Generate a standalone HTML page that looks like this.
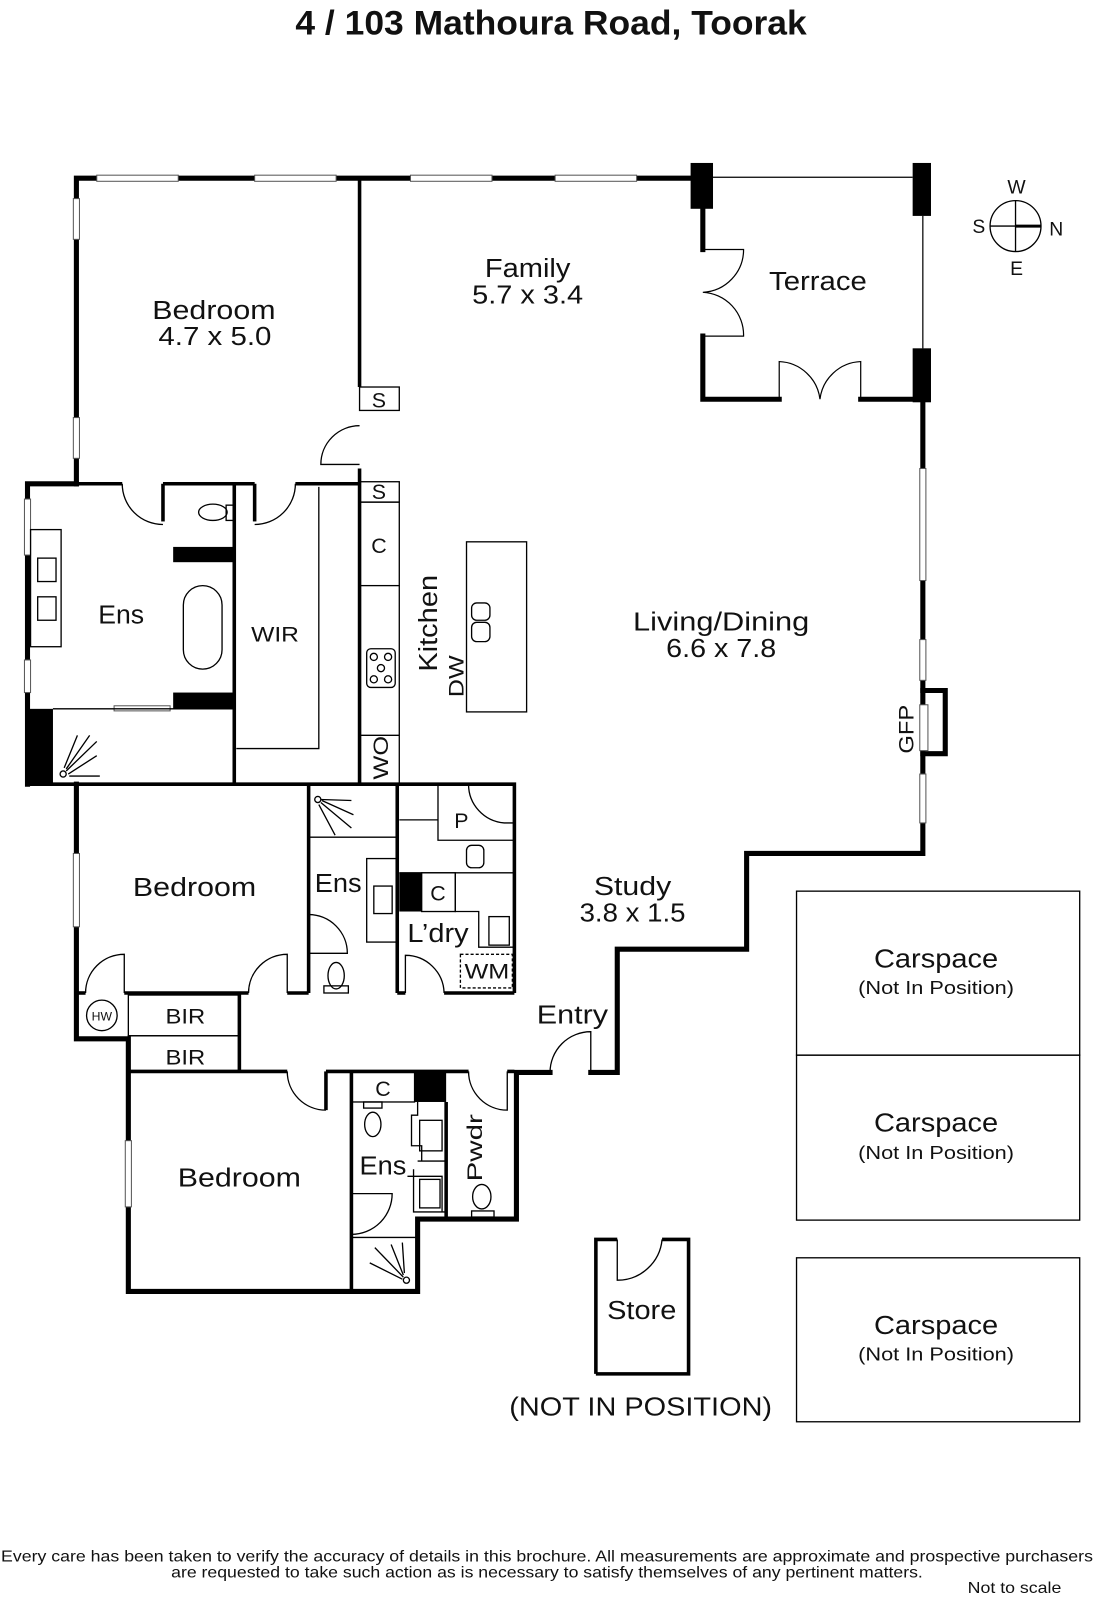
<!DOCTYPE html>
<html><head><meta charset="utf-8"><style>
html,body{margin:0;padding:0;background:#fff}
svg{display:block}
text{font-family:"Liberation Sans",sans-serif;fill:#111}
</style></head><body>
<svg width="1096" height="1600" viewBox="0 0 1076 1571" preserveAspectRatio="none" xmlns="http://www.w3.org/2000/svg">
<text x="541" y="34" text-anchor="middle" font-size="34" font-weight="bold" textLength="502" lengthAdjust="spacingAndGlyphs">4 / 103 Mathoura Road, Toorak</text>

<g fill="none" stroke="#000" stroke-width="5" stroke-linecap="square">
<polyline points="75,475 75,175 690,175"/>
<polyline points="690,205 690,245"/><polyline points="690,330 690,392 765,392"/><polyline points="845,392 906,392 906,838 733,838 733,932 606,932 606,1053 580,1053"/>
<polyline points="540,1053 507,1053 507,1197 410,1197 410,1268 126,1268 126,1020 75,1020 75,770"/>
<polyline points="27,770 27,475 75,475"/>
<polyline points="906,678 928,678 928,740 906,740"/>
</g>
<g fill="#000">
<rect x="678" y="160" width="22" height="45"/><rect x="896" y="160" width="18" height="52"/><rect x="896" y="342" width="18" height="53"/>
<rect x="170" y="537" width="60" height="15"/><rect x="170" y="680" width="60" height="16"/><rect x="27" y="696" width="25" height="74"/>
<rect x="392" y="857" width="22" height="38"/><rect x="407" y="1052" width="31" height="30"/>
</g>
<g fill="#fff" stroke="#555" stroke-width="1">
<rect x="95" y="172" width="80" height="6"/><rect x="250" y="172" width="80" height="6"/><rect x="403" y="172" width="80" height="6"/><rect x="545" y="172" width="80" height="6"/>
<rect x="72" y="195" width="6" height="40"/><rect x="72" y="410" width="6" height="40"/>
<rect x="24" y="490" width="6" height="55"/><rect x="24" y="648" width="6" height="32"/>
<rect x="903" y="460" width="6" height="110"/><rect x="903" y="628" width="6" height="40"/><rect x="903" y="760" width="6" height="48"/>
<rect x="72" y="838" width="6" height="72"/><rect x="123" y="1120" width="6" height="65"/>
<rect x="112" y="693" width="55" height="5"/><rect x="903" y="692" width="8" height="45"/>
</g>
<g fill="none" stroke="#000" stroke-width="1.2">
<line x1="700" y1="174" x2="896" y2="174"/><line x1="906" y1="212" x2="906" y2="342"/>
<path d="M690,245 H730 A42,42 0 0 1 690,287 A42,42 0 0 1 730,330 H690"/>
<path d="M765,392 V355 A42,42 0 0 1 805,392 A42,42 0 0 1 845,355 V392"/>
</g>
<g fill="none" stroke="#000" stroke-width="3.5">
<polyline points="353,175 353,380"/><polyline points="353,460 353,770"/>
<polyline points="27,475 120,475"/><polyline points="160,475 160,512"/><polyline points="160,475 250,475"/><polyline points="250,475 250,512"/><polyline points="290,475 353,475"/>
<line x1="230" y1="475" x2="230" y2="770"/>
<polyline points="27,770 505,770 505,975"/>
<line x1="303" y1="770" x2="303" y2="975"/><line x1="390" y1="770" x2="390" y2="975"/>
<polyline points="75,975 84,975"/><polyline points="122,975 244,975"/><polyline points="282,975 303,975"/><polyline points="390,975 398,975"/><line x1="436" y1="975" x2="505" y2="975"/>
<line x1="235" y1="975" x2="235" y2="1052"/>
<polyline points="126,1052 282,1052"/><polyline points="320,1052 320,1090"/><polyline points="320,1052 460,1052"/><line x1="498" y1="1052" x2="505" y2="1052"/>
<line x1="345" y1="1052" x2="345" y2="1268"/><line x1="438" y1="1082" x2="438" y2="1197"/>
<polyline points="585,1349 585,1217 606,1217"/><polyline points="650,1217 676,1217 676,1349 585,1349"/>
</g>
<g fill="none" stroke="#000" stroke-width="1.3">
<rect x="353" y="380" width="39" height="23"/><rect x="353" y="473" width="39" height="20"/><rect x="353" y="493" width="39" height="82"/>
<line x1="392" y1="575" x2="392" y2="770"/><line x1="353" y1="722" x2="392" y2="722"/>
<path d="M353,418 A38,38 0 0 0 315,456 H353"/>
<path d="M120,475 A40,40 0 0 0 160,515"/><path d="M290,475 A40,40 0 0 1 250,515"/>
<rect x="360" y="637" width="28" height="38" rx="4"/><circle cx="367" cy="645" r="3.5"/><circle cx="381" cy="645" r="3.5"/><circle cx="374" cy="656" r="3.5"/><circle cx="367" cy="667" r="3.5"/><circle cx="381" cy="667" r="3.5"/>
<polyline points="313,478 313,735 232,735"/>
<rect x="30" y="520" width="30" height="115"/><rect x="37" y="548" width="18" height="23"/><rect x="37" y="586" width="18" height="23"/>
<rect x="180" y="575" width="38" height="82" rx="19"/><ellipse cx="209" cy="503" rx="14" ry="8"/><rect x="222" y="496" width="8" height="15"/>
<line x1="52" y1="696" x2="230" y2="696"/>
<rect x="458" y="532" width="59" height="167"/><rect x="463" y="592" width="18" height="17" rx="5"/><rect x="463" y="611" width="18" height="19" rx="5"/>
<circle cx="62" cy="760" r="3"/><path d="M65,757 L95,728 M65,755 L88,722 M63,754 L76,722 M67,760 L95,742 M68,762 L98,762"/>
<line x1="303" y1="822" x2="390" y2="822"/><circle cx="312" cy="785" r="3"/><path d="M315,788 L345,813 M316,786 L347,800 M315,785 L345,786 M313,790 L329,820"/>
<rect x="360" y="843" width="30" height="82"/><rect x="367" y="870" width="18" height="27"/>
<path d="M303,898 A38,38 0 0 1 341,936 H303"/>
<ellipse cx="330" cy="958" rx="8" ry="13"/><rect x="318" y="968" width="24" height="7"/>
<path d="M282,975 V937 A38,38 0 0 0 244,975"/><path d="M122,975 V937 A38,38 0 0 0 84,975"/>
<path d="M392,805 H430 V825 H505 M430,805 V770 M505,808 H495 A38,38 0 0 1 460,770"/>
<rect x="458" y="830" width="17" height="22" rx="5"/>
<polyline points="392,857 505,857"/><rect x="414" y="857" width="33" height="38"/>
<polyline points="447,857 447,895 470,895 470,930 505,930"/><rect x="480" y="900" width="20" height="28"/>
<path d="M398,975 V938 A38,38 0 0 1 436,975"/>
<rect x="452" y="937" width="51" height="33" stroke-dasharray="3,2"/>
<circle cx="100" cy="997" r="15"/>
<rect x="126" y="977" width="109" height="40"/><rect x="126" y="1017" width="109" height="35"/>
<path d="M282,1052 A38,38 0 0 0 320,1090"/>
<rect x="345" y="1052" width="62" height="30"/>
<ellipse cx="366" cy="1104" rx="8" ry="12"/><rect x="357" y="1082" width="18" height="6"/>
<path d="M410,1082 V1095 H404 V1125 H414 V1140 M410,1140 H438 M406,1148 V1190 H438 M400,1155 H434 V1190"/>
<rect x="412" y="1100" width="22" height="30"/><rect x="412" y="1158" width="20" height="28"/>
<path d="M345,1172 H385 A40,40 0 0 1 345,1212"/>
<line x1="345" y1="1215" x2="410" y2="1215"/><circle cx="399" cy="1257" r="3"/><path d="M396,1254 L368,1225 M396,1252 L384,1222 M395,1256 L363,1240 M397,1250 L395,1220"/>
<ellipse cx="473" cy="1175" rx="9" ry="12"/><rect x="463" y="1189" width="22" height="6"/>
<path d="M460,1052 A38,38 0 0 0 498,1090 V1052"/>
<path d="M540,1053 A40,40 0 0 1 580,1013 V1053"/>
<path d="M606,1217 V1257 A44,44 0 0 0 650,1217"/>
<rect x="782" y="875" width="278" height="161"/><rect x="782" y="1036" width="278" height="162"/><rect x="782" y="1235" width="278" height="161"/>
<circle cx="997" cy="222" r="25"/><line x1="972" y1="222" x2="1022" y2="222"/><line x1="997" y1="197" x2="997" y2="247"/>
</g>
<line x1="997" y1="222" x2="1022" y2="222" stroke="#000" stroke-width="3"/>
<g font-size="19" text-anchor="middle">
<text x="998" y="190">W</text><text x="998" y="270">E</text><text x="961" y="229">S</text><text x="1037" y="231">N</text>
</g>
<g font-size="25" text-anchor="middle" lengthAdjust="spacingAndGlyphs">
<text x="518" y="272" textLength="84" lengthAdjust="spacingAndGlyphs">Family</text><text x="518" y="298" textLength="109" lengthAdjust="spacingAndGlyphs">5.7 x 3.4</text>
<text x="210" y="313" textLength="121" lengthAdjust="spacingAndGlyphs">Bedroom</text><text x="211" y="339" textLength="111" lengthAdjust="spacingAndGlyphs">4.7 x 5.0</text>
<text x="803" y="285" textLength="96" lengthAdjust="spacingAndGlyphs">Terrace</text>
<text x="708" y="619" textLength="173" lengthAdjust="spacingAndGlyphs">Living/Dining</text><text x="708" y="645" textLength="108" lengthAdjust="spacingAndGlyphs">6.6 x 7.8</text>
<text x="119" y="612" textLength="45" lengthAdjust="spacingAndGlyphs">Ens</text><text x="621" y="879" textLength="76" lengthAdjust="spacingAndGlyphs">Study</text><text x="621" y="905" textLength="104" lengthAdjust="spacingAndGlyphs">3.8 x 1.5</text>
<text x="562" y="1005" textLength="70" lengthAdjust="spacingAndGlyphs">Entry</text><text x="191" y="880" textLength="121" lengthAdjust="spacingAndGlyphs">Bedroom</text><text x="235" y="1165" textLength="121" lengthAdjust="spacingAndGlyphs">Bedroom</text>
<text x="630" y="1295" textLength="68" lengthAdjust="spacingAndGlyphs">Store</text><text x="629" y="1390" textLength="258" lengthAdjust="spacingAndGlyphs">(NOT IN POSITION)</text>
<text x="919" y="950" textLength="122" lengthAdjust="spacingAndGlyphs">Carspace</text><text x="919" y="1111" textLength="122" lengthAdjust="spacingAndGlyphs">Carspace</text><text x="919" y="1310" textLength="122" lengthAdjust="spacingAndGlyphs">Carspace</text>
<text x="332" y="876" textLength="46" lengthAdjust="spacingAndGlyphs">Ens</text><text x="430" y="925" textLength="60" lengthAdjust="spacingAndGlyphs">L’dry</text><text x="376" y="1153" textLength="46" lengthAdjust="spacingAndGlyphs">Ens</text>
<text transform="translate(429,612) rotate(-90)" textLength="95" lengthAdjust="spacingAndGlyphs">Kitchen</text>
</g>
<g font-size="21" text-anchor="middle">
<text x="270" y="630" textLength="47" lengthAdjust="spacingAndGlyphs">WIR</text><text x="182" y="1005" textLength="39" lengthAdjust="spacingAndGlyphs">BIR</text><text x="182" y="1045" textLength="39" lengthAdjust="spacingAndGlyphs">BIR</text>
<text x="372" y="400">S</text><text x="372" y="490">S</text><text x="372" y="543">C</text><text x="430" y="884">C</text><text x="376" y="1076">C</text><text x="453" y="813">P</text>
<text x="478" y="961" textLength="44" lengthAdjust="spacingAndGlyphs">WM</text>
<text transform="translate(455,664) rotate(-90)" textLength="41" lengthAdjust="spacingAndGlyphs">DW</text>
<text transform="translate(381,744) rotate(-90)" textLength="43" lengthAdjust="spacingAndGlyphs">WO</text>
<text transform="translate(897,716) rotate(-90)" textLength="48" lengthAdjust="spacingAndGlyphs">GFP</text>
<text transform="translate(473,1127) rotate(-90)" textLength="66" lengthAdjust="spacingAndGlyphs">Pwdr</text>
</g>
<text x="100" y="1002" font-size="12" text-anchor="middle">HW</text>
<g font-size="18" text-anchor="middle">
<text x="919" y="976" textLength="153" lengthAdjust="spacingAndGlyphs">(Not In Position)</text><text x="919" y="1138" textLength="153" lengthAdjust="spacingAndGlyphs">(Not In Position)</text><text x="919" y="1336" textLength="153" lengthAdjust="spacingAndGlyphs">(Not In Position)</text>
</g>
<g font-size="15" text-anchor="middle">
<text x="537" y="1533" textLength="1072" lengthAdjust="spacingAndGlyphs">Every care has been taken to verify the accuracy of details in this brochure.  All measurements are approximate and prospective purchasers</text>
<text x="537" y="1549" textLength="738" lengthAdjust="spacingAndGlyphs">are requested to take such action as is necessary to satisfy themselves of any pertinent matters.</text>
<text x="996" y="1564" textLength="92" lengthAdjust="spacingAndGlyphs">Not to scale</text>
</g>
</svg>
</body></html>
